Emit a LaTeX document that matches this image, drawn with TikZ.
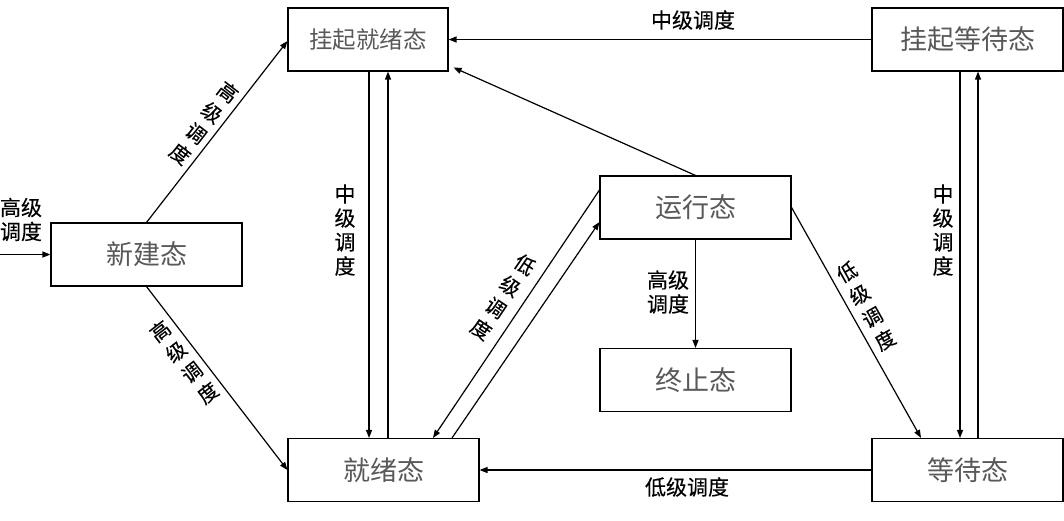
\documentclass[tikz,border=0pt]{standalone}
\usepackage{fontspec}
\newfontfamily\cjk{Noto Sans CJK SC}
\newfontfamily\cjklbl[FakeBold=0.25]{Noto Sans CJK SC}
\usepackage{tikz}
\usetikzlibrary{arrows.meta}

\begin{document}
\begin{tikzpicture}[x=1pt, y=-1pt, >={Triangle[length=8pt, width=6pt]}, line width=1.2pt,
    state/.style={draw, line width=1.1pt, minimum width=191pt, minimum height=63pt,
        inner sep=0pt, font=\cjk\fontsize{27}{30}\selectfont, text=black!65},
    lbl/.style={font=\cjklbl\fontsize{21}{24}\selectfont, align=center, inner sep=0pt},
    slant/.style={lbl, font=\cjklbl\fontsize{20}{26}\selectfont}]
    \useasboundingbox (0,0) rectangle (1064,520);
    % States
    \node[state] (xinjian) at (146.5,254.5) {新建态};
    \node[state, minimum width=160pt, font=\cjk\fontsize{23.5}{26}\selectfont] (gqjx) at (368,39.5) {挂起就绪态};
    \node[state] (gqdd) at (967.5,39.5) {挂起等待态};
    \node[state] (yunxing) at (695.5,207.5) {运行态};
    \node[state] (zhongzhi) at (695.5,380) {终止态};
    \node[state] (jiuxu) at (383.5,470) {就绪态};
    \node[state] (dengdai) at (967.5,470) {等待态};
    % Entry
    \coordinate (entry) at (0,254.5);
    \draw[->] (entry) -- (xinjian.west);
    \node[lbl, align=left] (l_in) at (21,219.5) {高级\\调度};
    % From new state
    \draw[->] (xinjian.north) -- ([yshift=-1.5pt]gqjx.west);
    \draw[->] (xinjian.south) -- (jiuxu.west);
    \node[slant, rotate=-37.6] (l_xg) at (204,123) {高\\级\\调\\度};
    \node[slant, rotate=37.6] (l_xj) at (184,362) {高\\级\\调\\度};
    % Suspended ready <-> ready
    \draw[->] ([xshift=1pt]gqjx.south) -- ([xshift=1pt]gqjx.south |- jiuxu.north);
    \draw[->] ([xshift=20pt]gqjx.south |- jiuxu.north) -- ([xshift=20pt]gqjx.south);
    \node[lbl] (l_gj) at (345,230) {中\\级\\调\\度};
    % Suspended waiting <-> waiting
    \draw[->] ([xshift=-7.5pt]gqdd.south) -- ([xshift=-7.5pt]gqdd.south |- dengdai.north);
    \draw[->] ([xshift=10.5pt]gqdd.south |- dengdai.north) -- ([xshift=10.5pt]gqdd.south);
    \node[lbl] (l_gd) at (943,230) {中\\级\\调\\度};
    % Suspended waiting -> suspended ready
    \draw[->] (gqdd.west) -- (gqjx.east);
    \node[lbl] (l_top) at (693,20) {中级调度};
    % Running state
    \draw[->] (yunxing.north) -- ([shift={(5pt,4pt)}]gqjx.south east);
    \draw[->] ([yshift=17.5pt]yunxing.west) -- ([xshift=49.5pt]jiuxu.north);
    \draw[->] ([xshift=68.5pt]jiuxu.north) -- ([yshift=-14.5pt]yunxing.west);
    \node[slant, rotate=-34] (l_yj) at (503,297) {低\\级\\调\\度};
    \draw[->] (yunxing.east) -- ([xshift=-46.5pt]dengdai.north);
    \node[slant, rotate=29.4] (l_yd) at (866,306) {低\\级\\调\\度};
    \draw[->] (yunxing.south) -- (zhongzhi.north);
    \node[lbl] (l_yz) at (668,292) {高级\\调度};
    % Waiting -> ready
    \draw[->] (dengdai.west) -- (jiuxu.east);
    \node[lbl] (l_bot) at (687,487) {低级调度};
\end{tikzpicture}
\end{document}
